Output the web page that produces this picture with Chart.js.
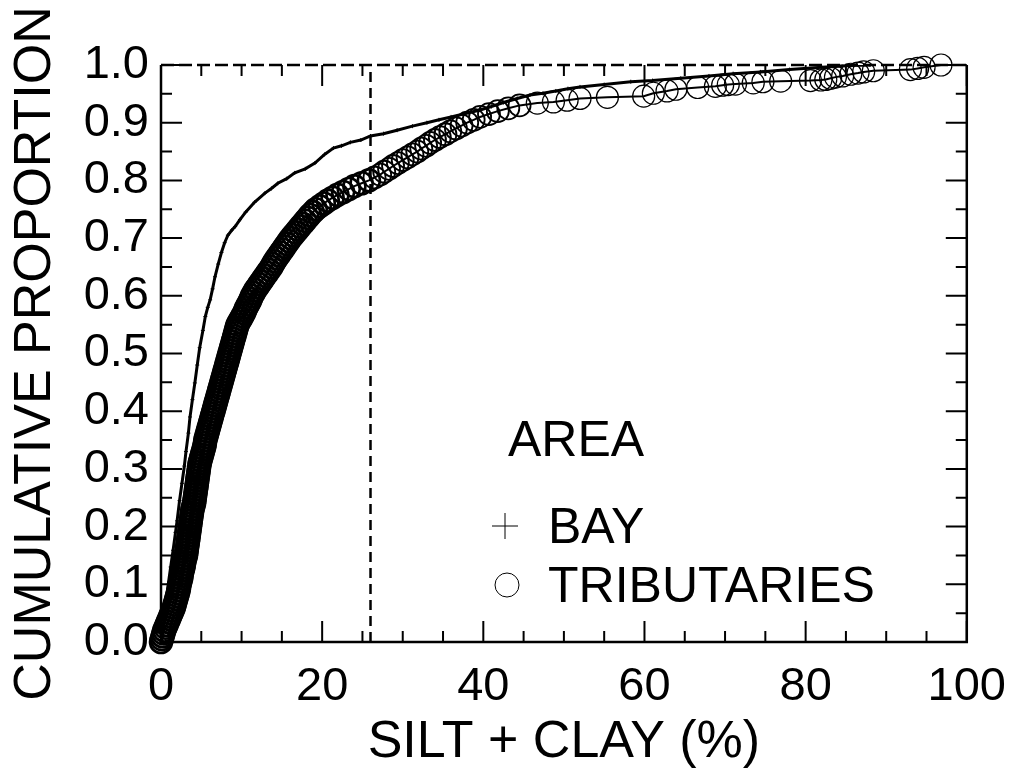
<!DOCTYPE html>
<html>
<head>
<meta charset="utf-8">
<script src="https://cdn.jsdelivr.net/npm/chart.js@4.4.1/dist/chart.umd.min.js"></script>
<style>
  html, body { margin: 0; padding: 0; background: #fff; }
</style>
</head>
<body>
<canvas id="cdf" width="1015" height="780"></canvas>
<script>
// silt + clay (%) vs cumulative proportion
var bayX = [0, 0.2, 0.5, 0.9, 1.2, 1.5, 1.8, 2.0, 2.3, 2.6, 2.9, 3.1, 3.4, 3.6, 3.9, 4.2, 4.5, 4.8, 5.2, 5.5, 5.8, 6.1, 6.4, 6.7, 7.1, 7.5, 7.9, 8.3, 8.8, 9.2, 9.8, 10.5, 11.6, 12.9, 13.7, 14.5, 15.6, 16.6, 17.9, 19.1, 20.3, 21.4, 22.4, 23.5, 24.8, 26.0, 27.6, 29.3, 31.2, 33.0, 34.5, 36.0, 37.8, 39.6, 41.0, 42.5, 44.2, 45.8, 47.4, 49.0, 50.5, 52.0, 55.0, 58.3, 61.0, 64.5, 68.0, 71.0, 74.4, 78.0, 82.0, 85.6, 88.0];
var bayY = [0, 0.010, 0.061, 0.100, 0.130, 0.159, 0.190, 0.210, 0.245, 0.275, 0.305, 0.330, 0.362, 0.390, 0.420, 0.449, 0.480, 0.510, 0.540, 0.564, 0.580, 0.593, 0.612, 0.633, 0.655, 0.675, 0.692, 0.705, 0.714, 0.720, 0.732, 0.745, 0.762, 0.778, 0.786, 0.795, 0.803, 0.813, 0.820, 0.830, 0.845, 0.856, 0.860, 0.866, 0.870, 0.877, 0.881, 0.887, 0.894, 0.900, 0.905, 0.910, 0.916, 0.922, 0.928, 0.935, 0.942, 0.948, 0.951, 0.955, 0.959, 0.962, 0.966, 0.971, 0.973, 0.977, 0.981, 0.985, 0.988, 0.992, 0.996, 0.999, 1.0];

var tribX = [
    0.0, 0.1, 0.2, 0.3, 0.4, 0.55, 0.7, 0.85, 1.0, 1.15, 1.3, 1.45, 1.6, 1.7, 1.8, 1.9, 2.0, 2.1, 2.2, 2.25,
    2.3, 2.4, 2.5, 2.55, 2.6, 2.7, 2.8, 2.85, 2.9, 3.0, 3.1, 3.15, 3.2, 3.25, 3.3, 3.35, 3.4, 3.45, 3.5, 3.55,
    3.6, 3.65, 3.7, 3.75, 3.8, 3.85, 3.9, 4.0, 4.1, 4.15, 4.2, 4.25, 4.3, 4.35, 4.4, 4.45, 4.5, 4.55, 4.6, 4.65,
    4.7, 4.75, 4.8, 4.9, 5.0, 5.1, 5.2, 5.3, 5.4, 5.45, 5.5, 5.6, 5.7, 5.8, 5.9, 6.0, 6.1, 6.2, 6.3, 6.4,
    6.5, 6.6, 6.7, 6.8, 6.9, 7.0, 7.1, 7.2, 7.3, 7.4, 7.5, 7.6, 7.7, 7.8, 7.9, 8.0, 8.1, 8.2, 8.3, 8.4,
    8.5, 8.6, 8.7, 8.8, 8.9, 9.0, 9.1, 9.2, 9.3, 9.4, 9.5, 9.7, 9.9, 10.1, 10.3, 10.45, 10.6, 10.8, 11.0, 11.15,
    11.3, 11.5, 11.7, 11.95, 12.2, 12.45, 12.7, 12.95, 13.2, 13.45, 13.7, 13.9, 14.1, 14.35, 14.6, 14.85, 15.1, 15.35, 15.6, 15.85,
    16.1, 16.4, 16.7, 17.0, 17.3, 17.6, 17.9, 18.2, 18.5, 18.85, 19.2, 19.7, 20.2, 20.7, 21.3, 21.9, 22.6, 23.3, 24.0, 24.9,
    25.8, 26.5, 27.2, 27.7, 28.3, 28.8, 29.4, 30.0, 30.6, 31.2, 31.8, 32.3, 32.9, 33.4, 34.0, 34.6, 35.3, 35.9, 36.6, 37.3,
    38.0, 38.8, 39.6, 40.7, 41.8, 43.1, 44.5,
    46.7, 48.7, 50.4, 52.0, 55.4, 59.9, 61.1, 62.8, 63.9, 66.6, 68.8, 69.7, 70.4, 71.3, 73.5, 74.7, 76.9, 80.6, 81.9, 82.5,
    83.1, 83.7, 84.6, 85.6, 86.5, 87.2, 88.4, 93.0, 93.9, 94.7, 96.8];
var tribY = [
    0.000, 0.005, 0.010, 0.015, 0.020, 0.025, 0.030, 0.035, 0.040, 0.045, 0.050, 0.055, 0.060, 0.065, 0.070, 0.075, 0.080, 0.085, 0.090, 0.095,
    0.100, 0.105, 0.110, 0.115, 0.120, 0.125, 0.130, 0.135, 0.140, 0.145, 0.150, 0.155, 0.160, 0.165, 0.170, 0.175, 0.180, 0.185, 0.190, 0.195,
    0.200, 0.205, 0.210, 0.215, 0.220, 0.225, 0.230, 0.235, 0.240, 0.245, 0.250, 0.255, 0.260, 0.265, 0.270, 0.275, 0.280, 0.285, 0.290, 0.295,
    0.300, 0.305, 0.310, 0.315, 0.320, 0.325, 0.330, 0.335, 0.340, 0.345, 0.350, 0.355, 0.360, 0.365, 0.370, 0.375, 0.380, 0.385, 0.390, 0.395,
    0.400, 0.405, 0.410, 0.415, 0.420, 0.425, 0.430, 0.435, 0.440, 0.445, 0.450, 0.455, 0.460, 0.465, 0.470, 0.475, 0.480, 0.485, 0.490, 0.495,
    0.500, 0.505, 0.510, 0.515, 0.520, 0.525, 0.530, 0.535, 0.540, 0.545, 0.550, 0.555, 0.560, 0.565, 0.570, 0.575, 0.580, 0.585, 0.590, 0.595,
    0.600, 0.605, 0.610, 0.615, 0.620, 0.625, 0.630, 0.635, 0.640, 0.645, 0.650, 0.655, 0.660, 0.665, 0.670, 0.675, 0.680, 0.685, 0.690, 0.695,
    0.700, 0.705, 0.710, 0.715, 0.720, 0.725, 0.730, 0.735, 0.740, 0.745, 0.750, 0.755, 0.760, 0.765, 0.770, 0.775, 0.780, 0.785, 0.790, 0.795,
    0.800, 0.805, 0.810, 0.815, 0.820, 0.825, 0.830, 0.835, 0.840, 0.845, 0.850, 0.855, 0.860, 0.865, 0.870, 0.875, 0.880, 0.885, 0.890, 0.895,
    0.900, 0.905, 0.910, 0.915, 0.920, 0.925, 0.930,
    0.934, 0.936, 0.939, 0.942, 0.944, 0.946, 0.951, 0.955, 0.958, 0.961, 0.963, 0.965, 0.966, 0.967, 0.969, 0.971, 0.972, 0.973, 0.974, 0.975,
    0.977, 0.979, 0.981, 0.984, 0.986, 0.988, 0.990, 0.992, 0.994, 0.996, 1.0];

var cutoff = 26;   // dashed vertical reference
var xTicks = [0, 20, 40, 60, 80, 100];
var yTicks = [0, 0.1, 0.2, 0.3, 0.4, 0.5, 0.6, 0.7, 0.8, 0.9, 1.0];
var legendTitle = 'AREA';
var legendNames = ['BAY', 'TRIBUTARIES'];

function toPoints(xs, ys) {
    var pts = [];
    for (var i = 0; i < xs.length; i++) pts.push({ x: xs[i], y: ys[i] });
    return pts;
}

var FONT = '"Liberation Sans", Arial, sans-serif';

// inward ticks on all four sides + frame (top edge dashed at 1.0)
var framePlugin = {
    id: 'frame',
    beforeDatasetsDraw: function (chart) {
        var c = chart.ctx, a = chart.chartArea;
        var xs = chart.scales.x, ys = chart.scales.y;
        c.save();
        c.strokeStyle = '#000';
        c.lineWidth = 2.5;
        c.beginPath();
        c.moveTo(a.left, a.top); c.lineTo(a.left, a.bottom); c.lineTo(a.right, a.bottom); c.lineTo(a.right, a.top);
        c.stroke();
        c.setLineDash([13, 5]);
        c.beginPath();
        c.moveTo(a.left, a.top); c.lineTo(a.right, a.top);
        c.stroke();
        c.setLineDash([]);
        c.lineWidth = 2;
        c.beginPath();
        for (var v = 0; v <= 100; v += 5) {
            var px = xs.getPixelForValue(v);
            var len = (v % 20 === 0) ? 21 : 11;
            c.moveTo(px, a.bottom); c.lineTo(px, a.bottom - len);
            c.moveTo(px, a.top); c.lineTo(px, a.top + len);
        }
        for (var k = 0; k <= 20; k++) {
            var py = ys.getPixelForValue(k * 0.05);
            var l2 = (k % 2 === 0) ? 21 : 11;
            c.moveTo(a.left, py); c.lineTo(a.left + l2, py);
            c.moveTo(a.right, py); c.lineTo(a.right - l2, py);
        }
        c.stroke();
        c.restore();
    },
    afterDraw: function (chart) {
        var c = chart.ctx;
        c.save();
        c.fillStyle = '#000';
        c.strokeStyle = '#000';
        c.font = '50px ' + FONT;
        c.textBaseline = 'alphabetic';
        c.fillText(legendTitle, 508, 456);
        c.fillText(legendNames[0], 548, 543);
        c.fillText(legendNames[1], 548, 602);
        c.lineWidth = 1;
        c.beginPath();
        c.moveTo(492, 526); c.lineTo(518, 526);
        c.moveTo(505, 513); c.lineTo(505, 539);
        c.stroke();
        c.beginPath();
        c.arc(507, 585, 12, 0, Math.PI * 2);
        c.stroke();
        c.restore();
    }
};

new Chart(document.getElementById('cdf').getContext('2d'), {
    type: 'scatter',
    data: {
        datasets: [
            {
                label: 'cutoff',
                data: [{ x: cutoff, y: 0 }, { x: cutoff, y: 1 }],
                showLine: true,
                borderColor: '#000',
                borderWidth: 2.5,
                borderDash: [10, 6],
                pointRadius: 0
            },
            {
                label: legendNames[0],
                data: toPoints(bayX, bayY),
                showLine: true,
                borderColor: '#000',
                borderWidth: 3,
                pointStyle: 'cross',
                pointRadius: 2,
                pointBorderWidth: 1,
                pointBorderColor: '#000'
            },
            {
                label: legendNames[1],
                data: toPoints(tribX, tribY),
                showLine: true,
                borderColor: '#000',
                borderWidth: 2,
                pointStyle: 'circle',
                pointRadius: 11,
                // rings pile up into a solid band where the samples are dense
                pointBorderWidth: function (ctx) { return ctx.raw && ctx.raw.y <= 0.8 ? 2.6 : (ctx.raw && ctx.raw.y <= 0.93 ? 1.8 : 1.2); },
                pointBorderColor: '#000',
                pointBackgroundColor: 'rgba(0,0,0,0)',
                clip: false
            }
        ]
    },
    options: {
        responsive: false,
        animation: false,
        devicePixelRatio: 1,
        layout: { padding: { left: 4, right: 43, top: 65, bottom: 6 } },
        plugins: { legend: { display: false }, tooltip: { enabled: false } },
        scales: {
            x: {
                type: 'linear',
                min: 0, max: 100,
                afterBuildTicks: function (s) { s.ticks = xTicks.map(function (v) { return { value: v }; }); },
                grid: { display: false },
                border: { display: false },
                ticks: { color: '#000', font: { size: 47, family: FONT }, padding: 9, maxRotation: 0, autoSkip: false },
                title: { display: true, text: 'SILT + CLAY (%)', color: '#000', font: { size: 52, family: FONT }, padding: { top: 0, bottom: 0 } },
                afterFit: function (s) { s.height = 132; }
            },
            y: {
                type: 'linear',
                min: 0, max: 1,
                afterBuildTicks: function (s) { s.ticks = yTicks.map(function (v) { return { value: v }; }); },
                grid: { display: false },
                border: { display: false },
                ticks: { color: '#000', font: { size: 47, family: FONT }, padding: 4, autoSkip: false, callback: function (v) { return v.toFixed(1); } },
                title: { display: true, text: 'CUMULATIVE PROPORTION', color: '#000', font: { size: 52, family: FONT }, padding: { top: 0, bottom: 0 } },
                afterFit: function (s) { s.width = 157; }
            }
        }
    },
    plugins: [framePlugin]
});
</script>
</body>
</html>
